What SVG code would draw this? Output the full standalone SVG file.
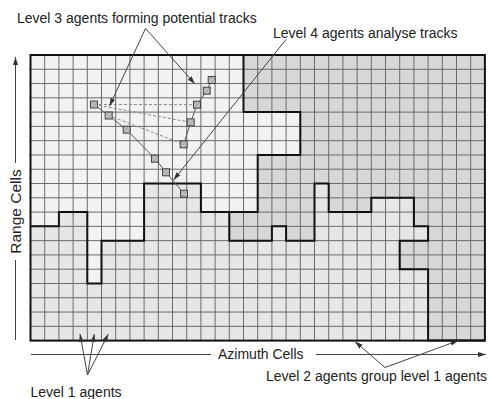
<svg xmlns="http://www.w3.org/2000/svg" width="488" height="399" viewBox="0 0 488 399">
<style>
.lbl{font-family:"Liberation Sans",Arial,sans-serif;font-size:14px;fill:#222}
.gl{fill:none;stroke:#6a6a6a;stroke-width:1}
.bd{fill:none;stroke:#111;stroke-width:2;stroke-linejoin:miter}
.ann{fill:none;stroke:#444;stroke-width:1}
.trk{fill:none;stroke:#555;stroke-width:1}
.dsh{fill:none;stroke:#888;stroke-width:1;stroke-dasharray:3 2}
.ag{fill:url(#hatch);stroke:#444;stroke-width:1}
</style>
<defs>
<pattern id="hatch" patternUnits="userSpaceOnUse" width="3" height="3" patternTransform="rotate(45)">
<rect width="3" height="3" fill="#c4c4c4"/>
<line x1="0" y1="0" x2="0" y2="3" stroke="#777" stroke-width="1"/>
</pattern>
<marker id="ah" markerUnits="userSpaceOnUse" markerWidth="9" markerHeight="6" refX="8" refY="3" orient="auto">
<path d="M0,0.5 L8,3 L0,5.5 z" fill="#333"/>
</marker>
</defs>

<g id="grid">
<rect x="30.5" y="55" width="454.4" height="285.6" fill="#e6e6e6"/>
<polygon id="region-l" fill="#f2f2f2" points="30.5,55 243.5,55 243.5,112.12 300.3,112.12 300.3,154.96 257.7,154.96 257.7,212.08 200.9,212.08 200.9,183.52 144.1,183.52 144.1,240.64 101.5,240.64 101.5,283.48 87.3,283.48 87.3,212.08 58.9,212.08 58.9,226.36 30.5,226.36"/>
<polygon id="region-r" fill="#d7d7d7" points="243.5,55 484.9,55 484.9,340.6 428.1,340.6 428.1,269.2 399.7,269.2 399.7,240.64 428.1,240.64 428.1,226.36 413.9,226.36 413.9,197.8 371.3,197.8 371.3,212.08 328.7,212.08 328.7,183.52 314.5,183.52 314.5,240.64 286.1,240.64 286.1,226.36 271.9,226.36 271.9,240.64 229.3,240.64 229.3,212.08 257.7,212.08 257.7,154.96 300.3,154.96 300.3,112.12 243.5,112.12"/>
<path class="gl" d="M44.7 55V340.6M58.9 55V340.6M73.1 55V340.6M87.3 55V340.6M101.5 55V340.6M115.7 55V340.6M129.9 55V340.6M144.1 55V340.6M158.3 55V340.6M172.5 55V340.6M186.7 55V340.6M200.9 55V340.6M215.1 55V340.6M229.3 55V340.6M243.5 55V340.6M257.7 55V340.6M271.9 55V340.6M286.1 55V340.6M300.3 55V340.6M314.5 55V340.6M328.7 55V340.6M342.9 55V340.6M357.1 55V340.6M371.3 55V340.6M385.5 55V340.6M399.7 55V340.6M413.9 55V340.6M428.1 55V340.6M442.3 55V340.6M456.5 55V340.6M470.7 55V340.6
M30.5 69.28H484.9M30.5 83.56H484.9M30.5 97.84H484.9M30.5 112.12H484.9M30.5 126.4H484.9M30.5 140.68H484.9M30.5 154.96H484.9M30.5 169.24H484.9M30.5 183.52H484.9M30.5 197.8H484.9M30.5 212.08H484.9M30.5 226.36H484.9M30.5 240.64H484.9M30.5 254.92H484.9M30.5 269.2H484.9M30.5 283.48H484.9M30.5 297.76H484.9M30.5 312.04H484.9M30.5 326.32H484.9"/>
<path class="bd" d="M243.5 55V112.12H300.3V154.96H257.7V212.08H200.9V183.52H144.1V240.64H101.5V283.48H87.3V212.08H58.9V226.36H30.5"/>
<path class="bd" d="M484.9 340.6H428.1V269.2H399.7V240.64H428.1V226.36H413.9V197.8H371.3V212.08H328.7V183.52H314.5V240.64H286.1V226.36H271.9V240.64H229.3V212.08H257.7"/>
<rect class="bd" x="30.5" y="55" width="454.4" height="285.6"/>
</g>

<g id="connectors">
<polyline class="trk" points="94,104.5 108.7,115.5 126.7,129.7 155,158.7 166,172.3 184,193.7"/>
<polyline class="trk" points="211.7,80 206.7,90.7 197,104.7 190.7,122.3 183.7,144.3"/>
<line class="dsh" x1="94" y1="104.5" x2="197" y2="104.7"/>
<line class="dsh" x1="94" y1="104.5" x2="190.7" y2="122.3"/>
<line class="dsh" x1="108.7" y1="115.5" x2="183.7" y2="144.3"/>
<line class="ann" x1="145.5" y1="28.5" x2="109.5" y2="106" marker-end="url(#ah)"/>
<line class="ann" x1="145.5" y1="28.5" x2="195" y2="84" marker-end="url(#ah)"/>
<line class="ann" x1="286" y1="39.5" x2="173.5" y2="180" marker-end="url(#ah)"/>
<line class="ann" x1="87.5" y1="375" x2="80" y2="334" marker-end="url(#ah)"/>
<line class="ann" x1="87.5" y1="375" x2="94.3" y2="334" marker-end="url(#ah)"/>
<line class="ann" x1="87.5" y1="375" x2="108.3" y2="334" marker-end="url(#ah)"/>
<line class="ann" x1="385" y1="367.5" x2="355" y2="341.5" marker-end="url(#ah)"/>
<line class="ann" x1="385" y1="367.5" x2="458.5" y2="340.5" marker-end="url(#ah)"/>
<line class="ann" x1="15.5" y1="163" x2="15.5" y2="57" marker-end="url(#ah)"/>
<line class="ann" x1="15.5" y1="260" x2="15.5" y2="340"/>
<line class="ann" x1="31" y1="354.5" x2="211" y2="354.5"/>
<line class="ann" x1="316" y1="354.5" x2="486" y2="354.5" marker-end="url(#ah)"/>
</g>

<g id="agents">
<g id="agent-a1"><rect class="ag" x="90.5" y="101" width="7" height="7"/></g>
<g id="agent-a2"><rect class="ag" x="105.2" y="112" width="7" height="7"/></g>
<g id="agent-a3"><rect class="ag" x="123.2" y="126.2" width="7" height="7"/></g>
<g id="agent-a4"><rect class="ag" x="151.5" y="155.2" width="7" height="7"/></g>
<g id="agent-a5"><rect class="ag" x="162.5" y="168.8" width="7" height="7"/></g>
<g id="agent-a6"><rect class="ag" x="180.5" y="190.2" width="7" height="7"/></g>
<g id="agent-b0"><rect class="ag" x="208.2" y="76.5" width="7" height="7"/></g>
<g id="agent-b1"><rect class="ag" x="203.2" y="87.2" width="7" height="7"/></g>
<g id="agent-b2"><rect class="ag" x="193.5" y="101.2" width="7" height="7"/></g>
<g id="agent-b3"><rect class="ag" x="187.2" y="118.8" width="7" height="7"/></g>
<g id="agent-b4"><rect class="ag" x="180.2" y="140.8" width="7" height="7"/></g>
</g>

<g id="labels">
<g id="lbl-level3"><text class="lbl" x="17" y="22.5">Level 3 agents forming potential tracks</text></g>
<g id="lbl-level4"><text class="lbl" x="273" y="37.5">Level 4 agents analyse tracks</text></g>
<g id="lbl-azimuth"><text class="lbl" x="218" y="358.5">Azimuth Cells</text></g>
<g id="lbl-range"><text class="lbl" style="font-size:15.5px" transform="translate(20.5,211.5) rotate(-90)" text-anchor="middle">Range Cells</text></g>
<g id="lbl-level1"><text class="lbl" x="30.5" y="396.5">Level 1 agents</text></g>
<g id="lbl-level2"><text class="lbl" x="266" y="380.5">Level 2 agents group level 1 agents</text></g>
</g>
</svg>
